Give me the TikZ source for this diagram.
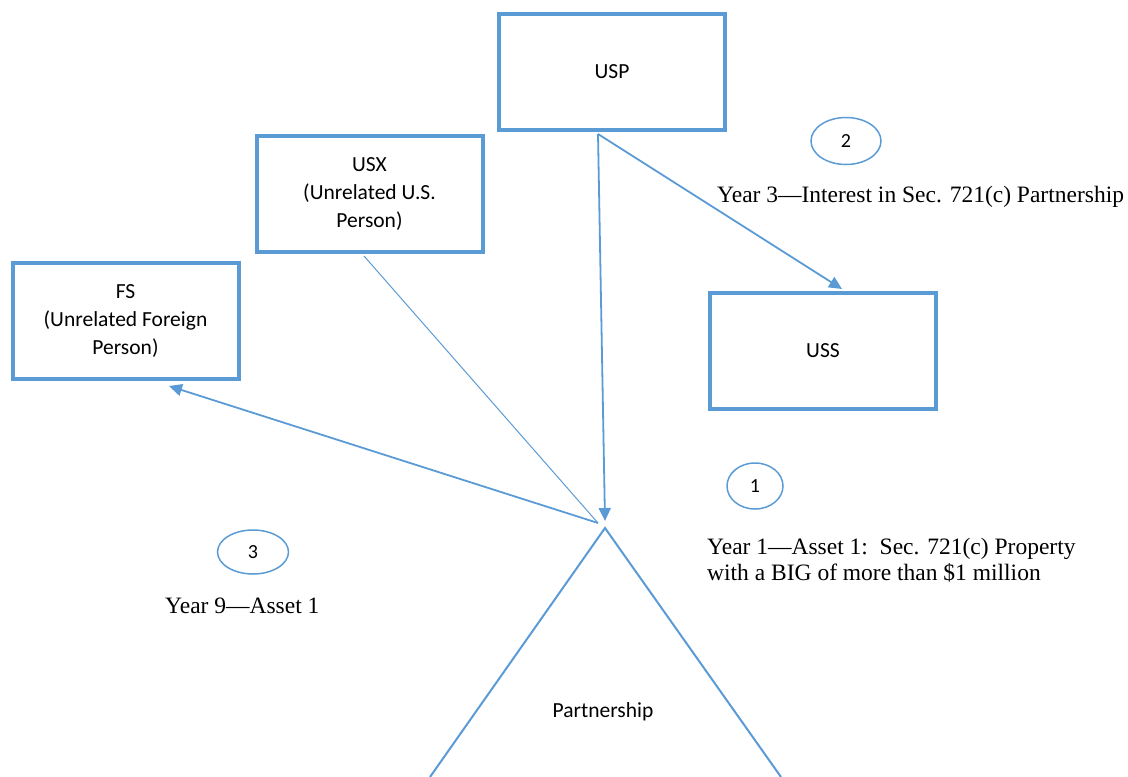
\documentclass[tikz,border=0pt]{standalone}
\usepackage{fontspec}
\setmainfont{Liberation Serif}
\newfontfamily\calib{Carlito}
\usetikzlibrary{arrows.meta,shapes.geometric}
\definecolor{ofblue}{HTML}{5B9BD5}
\tikzset{
  entbox/.style={draw=ofblue, line width=4pt, minimum width=226pt, minimum height=116pt, inner sep=0pt, align=center, font=\calib\fontsize{21.5}{28}\selectfont},
  numell/.style={draw=ofblue, line width=1.5pt, ellipse, inner sep=0pt, font=\calib\fontsize{20}{22}\selectfont},
  serlab/.style={anchor=west, align=left, inner sep=0pt, font=\fontsize{23.5}{26}\selectfont},
  conn/.style={draw=ofblue, line width=1.8pt, -{Triangle[length=13pt,width=12pt]}},
  thinconn/.style={draw=ofblue, line width=1pt},
  tri/.style={draw=ofblue, line width=2pt}
}
\begin{document}
\begin{tikzpicture}[x=1pt,y=-1pt]
\useasboundingbox (0,0) rectangle (1128,777);
\node[entbox] (usp) at (612,72) {USP};
\node[entbox] (usx) at (369.5,194) {USX\\(Unrelated U.S.\\Person)};
\node[entbox] (fs) at (125.5,321) {FS\\(Unrelated Foreign\\Person)};
\node[entbox] (uss) at (823,350.5) {USS};
\node[numell, minimum width=70pt, minimum height=47pt] (c2) at (846,141) {2};
\node[numell, minimum width=56pt, minimum height=46pt] (c1) at (755,486) {1};
\node[numell, minimum width=71pt, minimum height=44pt] (c3) at (253,552) {3};
\node[serlab] (t2) at (717,197) {Year 3---Interest in Sec. 721(c) Partnership};
\node[serlab] (t1) at (707,560) {Year 1---Asset 1:\ \ Sec. 721(c) Property\\with a BIG of more than \$1 million};
\node[serlab] (t3) at (165,606) {Year 9---Asset 1};
\coordinate (apex) at (605,528);
\coordinate (tl) at (430,777);
\coordinate (tr) at (781,777);
\draw[tri] (tl) -- (apex) -- (tr);
\node[font=\calib\fontsize{21.5}{24}\selectfont] (part) at (603,712) {Partnership};
\coordinate (uspout) at (598,134);
\coordinate (ussin) at (842,289);
\coordinate (partin) at (605,521);
\coordinate (partout) at (598,523);
\coordinate (fsin) at (169,386);
\coordinate (usxout) at (364,256);
\draw[conn] (uspout) -- (partin);
\draw[conn] (uspout) -- (ussin);
\draw[conn] (partout) -- (fsin);
\draw[thinconn] (usxout) -- (partout);
\end{tikzpicture}
\end{document}
